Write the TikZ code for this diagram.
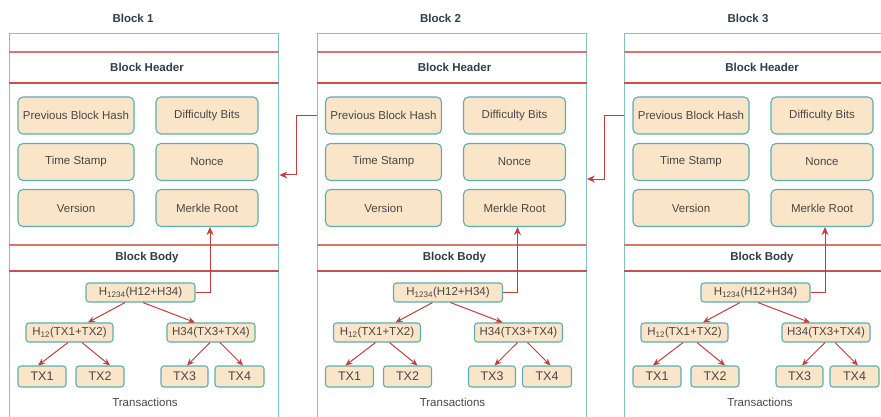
\documentclass[tikz,border=0pt]{standalone}
\usepackage{fontspec}
\setmainfont{Liberation Sans}
\usetikzlibrary{arrows.meta,calc}
\definecolor{peach}{HTML}{FBE5C8}
\definecolor{teal1}{HTML}{5BB0AE}
\definecolor{teal2}{HTML}{7FC4C4}
\definecolor{redl}{HTML}{C23E3E}
\definecolor{redm}{HTML}{C85050}
\definecolor{redp}{HTML}{D87474}
\definecolor{txt}{HTML}{474747}
\definecolor{ttl}{HTML}{2E3F4C}
\begin{document}
\begin{tikzpicture}[x=1pt,y=-1pt,
  font=\fontsize{11.5}{13}\selectfont,
  fieldbox/.style={draw=teal1, fill=peach, line width=1.1pt, rounded corners=5pt, inner sep=0pt, text=txt, minimum height=37pt},
  treebox/.style={draw=teal1, fill=peach, line width=1.1pt, rounded corners=3pt, inner sep=0pt, text=txt, minimum height=19pt},
  txbox/.style={treebox, minimum height=21pt, font=\fontsize{12.5}{14}\selectfont},
  blockrect/.style={draw=teal2, line width=1.4pt, inner sep=0pt, anchor=north west, minimum width=269pt, minimum height=400pt},
  bandline/.style={color=redm, line width=1.2pt},
  bandlinelight/.style={color=redp, line width=1.2pt},
  bandtitle/.style={font=\bfseries\fontsize{11.5}{13}\selectfont, text=ttl},
  plaintext/.style={text=txt},
  link/.style={color=redl, line width=1pt, -{Stealth[length=8pt,width=7pt]}},
  treelink/.style={color=redl, line width=1pt, -{Stealth[length=7pt,width=6pt]}},
]
\useasboundingbox (0,0) rectangle (881,417);
\clip (0,0) rectangle (881,417);
\foreach \i/\ox in {1/0,2/307.5,3/615}{
 \begin{scope}[xshift=\ox]
  \node[blockrect] (blk\i) at (9,33) {};
  \node[bandtitle] (ttl\i) at (133,18) {Block \i};
  \draw[bandlinelight] (blk\i.west |- 0,52) -- (blk\i.east |- 0,52);
  \draw[bandline] (blk\i.west |- 0,83) -- (blk\i.east |- 0,83);
  \node[bandtitle] (hdr\i) at (147,67) {Block Header};
  \node[fieldbox, minimum width=116pt] (pbh\i) at (76,115.5) {Previous Block Hash};
  \node[fieldbox, minimum width=102pt] (db\i) at (207,115.5) {Difficulty Bits};
  \node[fieldbox, minimum width=116pt] (ts\i) at (76,162) {Time Stamp};
  \node[fieldbox, minimum width=102pt] (nc\i) at (207,162) {Nonce};
  \node[fieldbox, minimum width=116pt] (ver\i) at (76,208) {Version};
  \node[fieldbox, minimum width=102pt] (mr\i) at (207,208) {Merkle Root};
  \draw[bandlinelight] (blk\i.west |- 0,245) -- (blk\i.east |- 0,245);
  \draw[bandline] (blk\i.west |- 0,271) -- (blk\i.east |- 0,271);
  \node[bandtitle] (bdy\i) at (147,258) {Block Body};
  \node[treebox, minimum width=109pt] (h\i) at (140.5,292.5) {H\textsubscript{1234}(H12+H34)};
  \node[treebox, minimum width=87pt] (ha\i) at (69.5,332.5) {H\textsubscript{12}(TX1+TX2)};
  \node[treebox, minimum width=88pt] (hb\i) at (211,332.5) {H34(TX3+TX4)};
  \node[txbox, minimum width=48pt] (txa\i) at (42,376.5) {TX1};
  \node[txbox, minimum width=48pt] (txb\i) at (100,376.5) {TX2};
  \node[txbox, minimum width=47pt] (txc\i) at (184.5,376.5) {TX3};
  \node[txbox, minimum width=49pt] (txd\i) at (239.5,376.5) {TX4};
  \node[plaintext] (trn\i) at (145,402) {Transactions};
  \draw[treelink] ([xshift=-15.5pt]h\i.south) -- ([xshift=18.5pt]ha\i.north);
  \draw[treelink] ([xshift=2.5pt]h\i.south) -- ([xshift=-16pt]hb\i.north);
  \draw[treelink] ([xshift=-1.5pt]ha\i.south) -- ([xshift=-4pt]txa\i.north);
  \draw[treelink] ([xshift=12.5pt]ha\i.south) -- ([xshift=10pt]txb\i.north);
  \draw[treelink] ([xshift=-1pt]hb\i.south) -- ([xshift=2.5pt]txc\i.north);
  \draw[treelink] ([xshift=9pt]hb\i.south) -- ([xshift=3.5pt]txd\i.north);
  \draw[link] (h\i.east) -| ([xshift=3pt]mr\i.south);
 \end{scope}
}
\draw[link] (pbh2.west -| blk2.west) -- ++(-20,0) |- (blk1.east |- 0,175);
\draw[link] (pbh3.west -| blk3.west) -- ++(-20,0) |- (blk2.east |- 0,179);
\end{tikzpicture}
\end{document}
